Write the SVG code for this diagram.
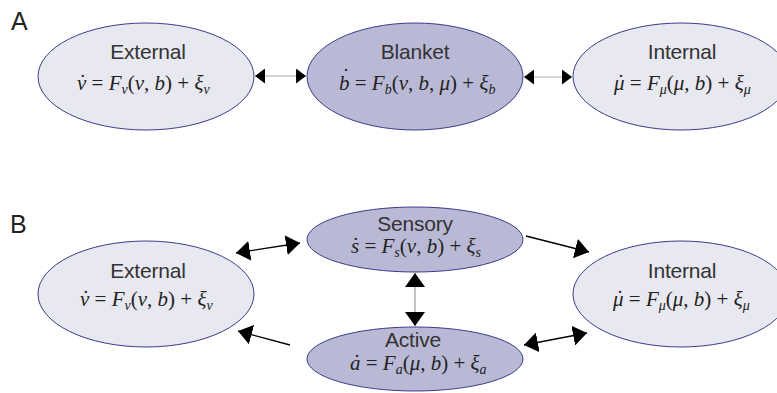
<svg xmlns="http://www.w3.org/2000/svg" width="777" height="393" viewBox="0 0 777 393">
<style>
.light{fill:#e8e8f0;stroke:#3c3c8a;stroke-width:1}
.dark{fill:#b9b9d6;stroke:#3c3c8a;stroke-width:1}
.t{font-family:"Liberation Sans",Arial,sans-serif;font-size:21px;fill:#333;text-anchor:middle;letter-spacing:-0.2px}
.f{font-family:"Liberation Serif","Times New Roman",serif;font-size:21px;font-style:italic;fill:#222}
.r{font-style:normal}
.s{font-size:14px}
.lab{font-family:"Liberation Sans",Arial,sans-serif;font-size:25px;fill:#222}
.ga{stroke:#c8c8c8;stroke-width:1.5;fill:none}
.gv{stroke:#999;stroke-width:1.2;fill:none}
.bk{stroke:#000;stroke-width:1.3;fill:none}
</style>
<defs>
<marker id="hs" viewBox="0 0 10 15" refX="10" refY="7.5" markerWidth="10" markerHeight="15" markerUnits="userSpaceOnUse" orient="auto-start-reverse"><path d="M0,0L10,7.5L0,15z" fill="#000"/></marker>
<marker id="hb" viewBox="0 0 14 20" refX="14" refY="10" markerWidth="14" markerHeight="20" markerUnits="userSpaceOnUse" orient="auto-start-reverse"><path d="M0,0L14,10L0,20z" fill="#000"/></marker>
</defs>
<text class="lab" x="11" y="30">A</text>
<text class="lab" x="10" y="233">B</text>
<g id="connectors">
<line class="ga" x1="255" y1="76" x2="306" y2="76" marker-start="url(#hs)" marker-end="url(#hs)"/>
<line class="ga" x1="524" y1="77" x2="572" y2="77" marker-start="url(#hs)" marker-end="url(#hs)"/>
<line class="bk" x1="236" y1="253" x2="300" y2="243" marker-start="url(#hb)" marker-end="url(#hb)"/>
<line class="bk" x1="526" y1="236" x2="589" y2="252" marker-end="url(#hb)"/>
<line class="gv" x1="415" y1="273" x2="415" y2="326" marker-start="url(#hb)" marker-end="url(#hb)"/>
<line class="bk" x1="524" y1="345" x2="587" y2="333" marker-start="url(#hb)" marker-end="url(#hb)"/>
<line class="bk" x1="290" y1="345" x2="238" y2="331" marker-end="url(#hb)"/>
</g>
<g id="externalA">
<ellipse class="light" cx="146" cy="76.5" rx="108" ry="53.5"/>
<text class="t" x="148" y="59">External</text>
<text class="f" x="77" y="90">ν<tspan class="r" dx="-7" dy="-1">˙</tspan><tspan dy="1"> </tspan><tspan class="r">= </tspan>F<tspan class="s" dy="4">ν</tspan><tspan class="r" dy="-4">(</tspan>ν<tspan class="r">, </tspan>b<tspan class="r">) + </tspan>ξ<tspan class="s" dy="4">ν</tspan></text>
</g>
<g id="blanketA">
<ellipse class="dark" cx="415" cy="76.5" rx="108" ry="53.5"/>
<text class="t" x="415" y="59">Blanket</text>
<text class="f" x="339" y="90">b<tspan class="r" dx="-7" dy="-7">˙</tspan><tspan dy="7"> </tspan><tspan class="r">= </tspan>F<tspan class="s" dy="4">b</tspan><tspan class="r" dy="-4">(</tspan>ν<tspan class="r">, </tspan>b<tspan class="r">, </tspan>μ<tspan class="r">) + </tspan>ξ<tspan class="s" dy="4">b</tspan></text>
</g>
<g id="internalA">
<ellipse class="light" cx="681" cy="76.5" rx="108" ry="53.5"/>
<text class="t" x="682" y="59">Internal</text>
<text class="f" x="614" y="90">μ<tspan class="r" dx="-7" dy="-1">˙</tspan><tspan dy="1"> </tspan><tspan class="r">= </tspan>F<tspan class="s" dy="4">μ</tspan><tspan class="r" dy="-4">(</tspan>μ<tspan class="r">, </tspan>b<tspan class="r">) + </tspan>ξ<tspan class="s" dy="4">μ</tspan></text>
</g>
<g id="externalB">
<ellipse class="light" cx="146" cy="294" rx="108" ry="53"/>
<text class="t" x="148" y="278">External</text>
<text class="f" x="80" y="306">ν<tspan class="r" dx="-7" dy="-1">˙</tspan><tspan dy="1"> </tspan><tspan class="r">= </tspan>F<tspan class="s" dy="4">ν</tspan><tspan class="r" dy="-4">(</tspan>ν<tspan class="r">, </tspan>b<tspan class="r">) + </tspan>ξ<tspan class="s" dy="4">ν</tspan></text>
</g>
<g id="sensory">
<ellipse class="dark" cx="415" cy="239.5" rx="108" ry="32.5"/>
<text class="t" x="415" y="231">Sensory</text>
<text class="f" x="351" y="253">s<tspan class="r" dx="-7" dy="-1">˙</tspan><tspan dy="1"> </tspan><tspan class="r">= </tspan>F<tspan class="s" dy="4">s</tspan><tspan class="r" dy="-4">(</tspan>ν<tspan class="r">, </tspan>b<tspan class="r">) + </tspan>ξ<tspan class="s" dy="4">s</tspan></text>
</g>
<g id="active">
<ellipse class="dark" cx="415" cy="359" rx="108" ry="32"/>
<text class="t" x="413" y="347">Active</text>
<text class="f" x="350" y="370">a<tspan class="r" dx="-7" dy="-1">˙</tspan><tspan dy="1"> </tspan><tspan class="r">= </tspan>F<tspan class="s" dy="4">a</tspan><tspan class="r" dy="-4">(</tspan>μ<tspan class="r">, </tspan>b<tspan class="r">) + </tspan>ξ<tspan class="s" dy="4">a</tspan></text>
</g>
<g id="internalB">
<ellipse class="light" cx="681" cy="294" rx="108" ry="53"/>
<text class="t" x="682" y="278">Internal</text>
<text class="f" x="613" y="306">μ<tspan class="r" dx="-7" dy="-1">˙</tspan><tspan dy="1"> </tspan><tspan class="r">= </tspan>F<tspan class="s" dy="4">μ</tspan><tspan class="r" dy="-4">(</tspan>μ<tspan class="r">, </tspan>b<tspan class="r">) + </tspan>ξ<tspan class="s" dy="4">μ</tspan></text>
</g>
</svg>
